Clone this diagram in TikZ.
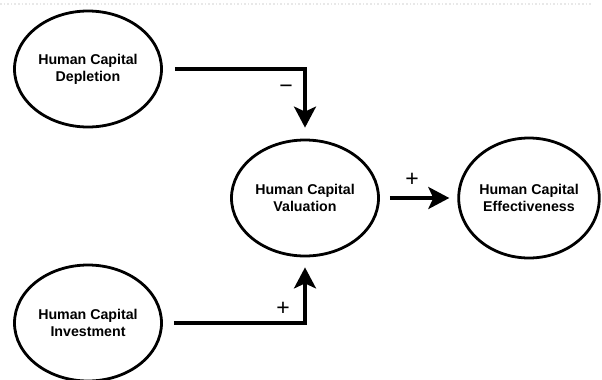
\documentclass[tikz,border=0pt]{standalone}
\usepackage{fontspec}
\setmainfont{Liberation Sans}
\usetikzlibrary{shapes.geometric,arrows.meta}
\begin{document}
\begin{tikzpicture}[x=1bp,y=-1bp,
  concept/.style={ellipse,draw,line width=2.8bp,inner sep=0pt,
    minimum width=147bp,minimum height=116bp,align=center,
    font=\fontsize{14.2bp}{17bp}\selectfont\bfseries},
  link/.style={line width=3.4bp,
    -{Stealth[length=21bp,width=22bp,inset=5bp]}},
  sign/.style={font=\fontsize{23bp}{25bp}\selectfont,inner sep=0pt}]
\useasboundingbox (0,0) rectangle (602,379);
\draw[gray!18,line width=1.6bp,dotted] (0,4) -- (592,4);
\node[concept] (dep) at (88,69) {Human Capital\\Depletion};
\node[concept] (inv) at (88,323) {Human Capital\\Investment};
\node[concept] (val) at (305,198) {Human Capital\\Valuation};
\node[concept,minimum width=139bp,minimum height=120bp] (eff) at (529,198) {Human Capital\\Effectiveness};
\draw[link,shorten <=12bp,shorten >=11bp] (dep) -| (val);
\draw[link,shorten <=11bp,shorten >=10bp] (inv) -| (val);
\draw[link,shorten <=10bp,shorten >=8bp] (val) -- (eff);
\node[sign] (m1) at (286,89) {−};
\node[sign] (p1) at (283,309) {+};
\node[sign] (p2) at (412,180) {+};
\end{tikzpicture}
\end{document}
